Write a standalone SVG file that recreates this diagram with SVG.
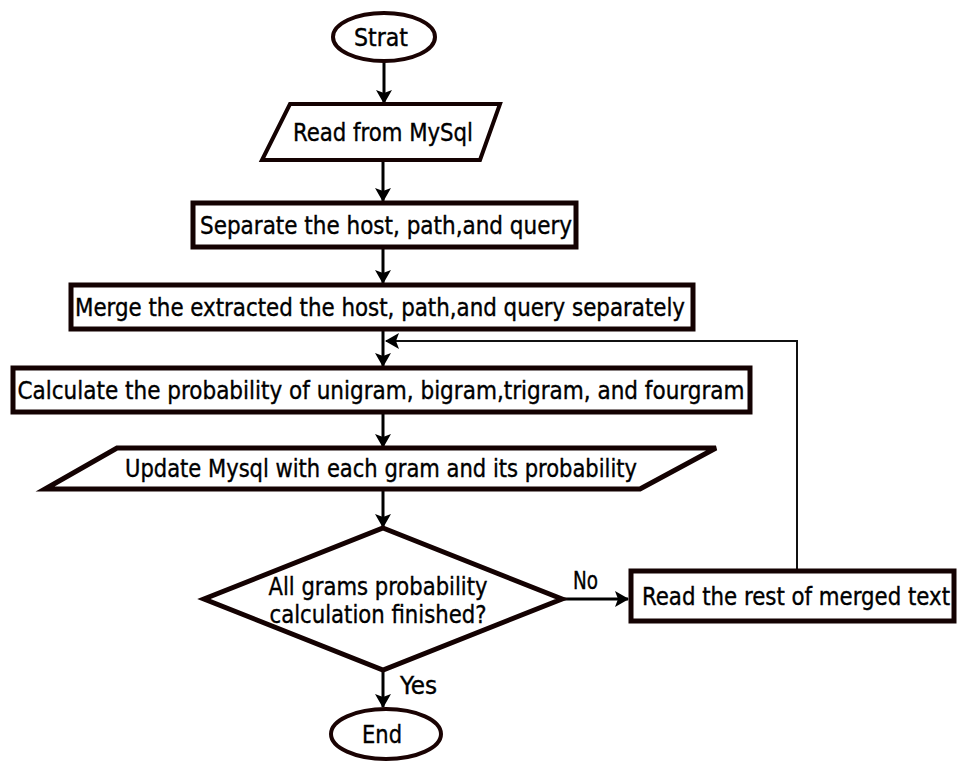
<svg xmlns="http://www.w3.org/2000/svg" width="957" height="762" viewBox="0 0 957 762">
<defs>
<marker id="ah2" viewBox="0 0 14 16" refX="13" refY="8" markerWidth="14" markerHeight="16" markerUnits="userSpaceOnUse" orient="auto">
<path d="M0,0 L14,8 L0,16 L3,8 Z" fill="#000"/>
</marker>
</defs>
<style>
.shape{fill:#fff;stroke:#140202;stroke-width:5;stroke-linejoin:miter}
.oval{fill:#fff;stroke:#1a0303;stroke-width:4}
.t{font-family:"DejaVu Sans Condensed","DejaVu Sans",sans-serif;font-size:24px;fill:#000;stroke:#000;stroke-width:0.35;text-anchor:middle}
.lbl{font-family:"DejaVu Sans Condensed","DejaVu Sans",sans-serif;font-size:24px;fill:#000;stroke:#000;stroke-width:0.35}
.c{fill:none;stroke:#000;stroke-width:3;marker-end:url(#ah2)}
.fb{fill:none;stroke:#111;stroke-width:2;marker-end:url(#ah2)}
</style>
<rect width="957" height="762" fill="#fff"/>
<g id="connectors">
<line class="c" x1="384" y1="61" x2="384" y2="103"/>
<line class="c" x1="383" y1="160" x2="383" y2="201"/>
<line class="c" x1="383" y1="248" x2="383" y2="283"/>
<line class="c" x1="383" y1="330" x2="383" y2="366"/>
<line class="c" x1="383" y1="413" x2="383" y2="447"/>
<line class="c" x1="383" y1="489" x2="383" y2="527"/>
<line class="c" x1="383" y1="670" x2="383" y2="707"/>
<line class="c" x1="563" y1="599" x2="628" y2="599"/>
<polyline class="fb" points="797,569 797,341 386,341"/>
<text class="lbl" x="573" y="589" textLength="25" lengthAdjust="spacingAndGlyphs">No</text>
<text class="lbl" x="400" y="694" textLength="37" lengthAdjust="spacingAndGlyphs">Yes</text>
</g>
<g id="start">
<ellipse class="oval" cx="384" cy="37" rx="51" ry="24"/>
<text class="t" x="381" y="46" textLength="54" lengthAdjust="spacingAndGlyphs">Strat</text>
</g>
<g id="read-mysql">
<polygon class="shape" points="290,104 500,104 480,160 262,160" style="stroke-width:4"/>
<text class="t" x="383" y="141" textLength="180" lengthAdjust="spacingAndGlyphs">Read from MySql</text>
</g>
<g id="separate">
<rect class="shape" x="193" y="203" width="383" height="44"/>
<text class="t" x="386" y="234" textLength="372" lengthAdjust="spacingAndGlyphs">Separate the host, path,and query</text>
</g>
<g id="merge">
<rect class="shape" x="71" y="285" width="622" height="44"/>
<text class="t" x="380" y="316" textLength="610" lengthAdjust="spacingAndGlyphs">Merge the extracted the host, path,and query separately</text>
</g>
<g id="calculate">
<rect class="shape" x="13" y="368" width="737" height="44"/>
<text class="t" x="381" y="399" textLength="727" lengthAdjust="spacingAndGlyphs">Calculate the probability of unigram, bigram,trigram, and fourgram</text>
</g>
<g id="update">
<polygon class="shape" points="117,448 716,448 640,489 45,489"/>
<text class="t" x="381" y="477" textLength="512" lengthAdjust="spacingAndGlyphs">Update Mysql with each gram and its probability</text>
</g>
<g id="decision">
<polygon class="shape" points="383,528 562,599 383,670 204,599"/>
<text class="t" x="378" y="595" textLength="219" lengthAdjust="spacingAndGlyphs">All grams probability</text>
<text class="t" x="378" y="623" textLength="217" lengthAdjust="spacingAndGlyphs">calculation finished?</text>
</g>
<g id="read-rest">
<rect class="shape" x="631" y="571" width="323" height="50"/>
<text class="t" x="796" y="605" textLength="308" lengthAdjust="spacingAndGlyphs">Read the rest of merged text</text>
</g>
<g id="end">
<ellipse class="oval" cx="386" cy="734" rx="55" ry="25"/>
<text class="t" x="382" y="743" textLength="40" lengthAdjust="spacingAndGlyphs">End</text>
</g>
</svg>
